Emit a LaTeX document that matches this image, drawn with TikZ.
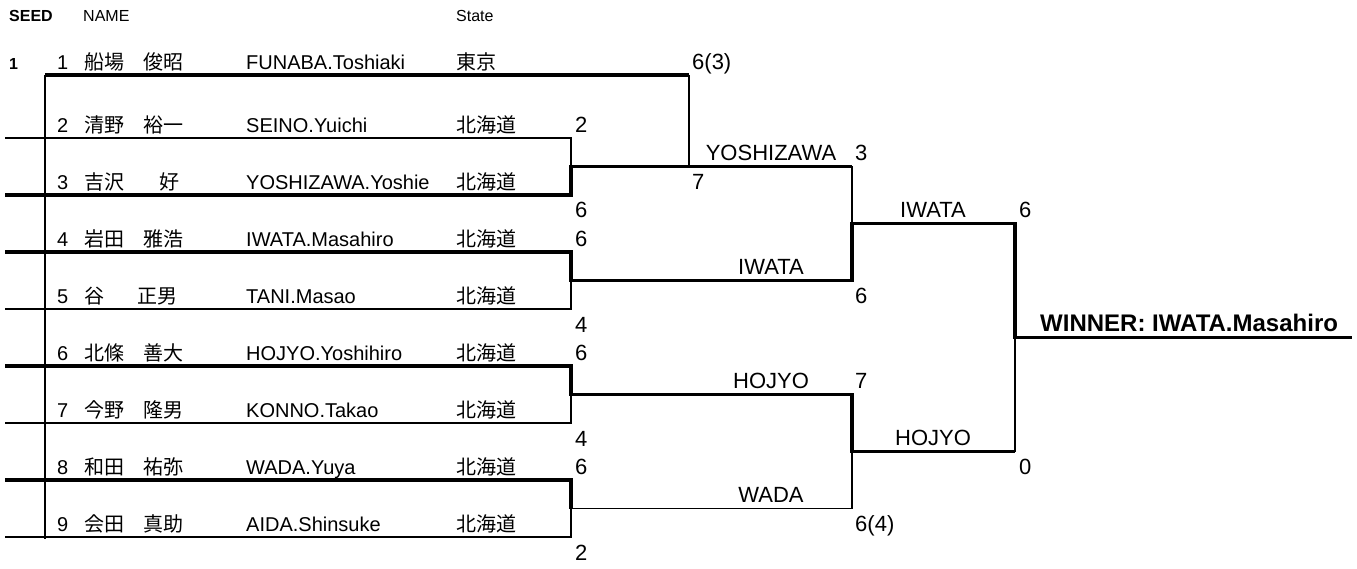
\documentclass[tikz,border=0pt]{standalone}
\usepackage{fontspec}
\setmainfont{Liberation Sans}
\newfontfamily\jp{Noto Sans CJK JP}
\usetikzlibrary{positioning, calc}

% family name in a box, given name after it
\newcommand{\jpname}[3]{\makebox[#1pt][l]{#2}#3}

\begin{document}
\begin{tikzpicture}[x=1pt, y=-1pt,
		every node/.style={inner sep=0pt},
		headText/.style={anchor=base west, font=\fontsize{16}{18}\selectfont},
		seedText/.style={anchor=base west, font=\fontsize{16}{18}\selectfont\bfseries},
		nameText/.style={anchor=base west, font=\fontsize{20}{24}\selectfont},
		jpText/.style={anchor=base west, font=\fontsize{20}{24}\selectfont\jp},
		scoreText/.style={anchor=base west, font=\fontsize{22}{26}\selectfont},
		labelText/.style={anchor=base, font=\fontsize{22}{26}\selectfont},
		winnerText/.style={anchor=base west, font=\fontsize{24}{28}\selectfont\bfseries},
		thinLine/.style={line width=1.2pt},
		thickLine/.style={line width=3.2pt},
		frameLine/.style={line width=2pt}
	]
	\useasboundingbox (0,0) rectangle (1357,569);

	% header
	\node[seedText] (hSeed) at (9,22) {SEED};
	\node[headText] (hName) at (83,22) {NAME};
	\node[headText] (hState) at (456,22) {State};

	% row lines
	\coordinate (a1) at (45,75);  \coordinate (b1) at (689,75);
	\coordinate (a2) at (5,138);  \coordinate (b2) at (571,138);
	\coordinate (a3) at (5,195);  \coordinate (b3) at (571,195);
	\coordinate (a4) at (5,252);  \coordinate (b4) at (571,252);
	\coordinate (a5) at (5,309);  \coordinate (b5) at (571,309);
	\coordinate (a6) at (5,366);  \coordinate (b6) at (571,366);
	\coordinate (a7) at (5,423);  \coordinate (b7) at (571,423);
	\coordinate (a8) at (5,480);  \coordinate (b8) at (571,480);
	\coordinate (a9) at (5,537);  \coordinate (b9) at (571,537);
	\coordinate (frameEnd) at (45,539);

	% junctions
	\coordinate (m23) at (571,166.5);
	\coordinate (m45) at (571,280.5);
	\coordinate (m67) at (571,394.5);
	\coordinate (m89) at (571,508.5);
	\coordinate (f1) at (689,166.5);
	\coordinate (q1) at (852,166.5);
	\coordinate (q2) at (852,280.5);
	\coordinate (q3) at (852,394.5);
	\coordinate (q4) at (852,508.5);
	\coordinate (sf1) at (852,223.5);
	\coordinate (sf2) at (852,451.5);
	\coordinate (t1) at (1015,223.5);
	\coordinate (t2) at (1015,451.5);
	\coordinate (w) at (1015,337.5);
	\coordinate (wEnd) at (1352,337.5);

	% players
	\node[seedText] (seed1) at (9,69.5) {1};
	\node[nameText] (n1) at (57,69.5) {1};
	\node[jpText] (jp1) at (84,69.5) {\jpname{59}{船場}{俊昭}};
	\node[nameText] (en1) at (246,69.5) {FUNABA.Toshiaki};
	\node[jpText] (st1) at (456,69.5) {東京};

	\node[nameText] (n2) at (57,132.5) {2};
	\node[jpText] (jp2) at (84,132.5) {\jpname{59}{清野}{裕一}};
	\node[nameText] (en2) at (246,132.5) {SEINO.Yuichi};
	\node[jpText] (st2) at (456,132.5) {北海道};

	\node[nameText] (n3) at (57,189.5) {3};
	\node[jpText] (jp3) at (84,189.5) {\jpname{75}{吉沢}{好}};
	\node[nameText] (en3) at (246,189.5) {YOSHIZAWA.Yoshie};
	\node[jpText] (st3) at (456,189.5) {北海道};

	\node[nameText] (n4) at (57,246.5) {4};
	\node[jpText] (jp4) at (84,246.5) {\jpname{59}{岩田}{雅浩}};
	\node[nameText] (en4) at (246,246.5) {IWATA.Masahiro};
	\node[jpText] (st4) at (456,246.5) {北海道};

	\node[nameText] (n5) at (57,303.5) {5};
	\node[jpText] (jp5) at (84,303.5) {\jpname{53}{谷}{正男}};
	\node[nameText] (en5) at (246,303.5) {TANI.Masao};
	\node[jpText] (st5) at (456,303.5) {北海道};

	\node[nameText] (n6) at (57,360.5) {6};
	\node[jpText] (jp6) at (84,360.5) {\jpname{59}{北條}{善大}};
	\node[nameText] (en6) at (246,360.5) {HOJYO.Yoshihiro};
	\node[jpText] (st6) at (456,360.5) {北海道};

	\node[nameText] (n7) at (57,417.5) {7};
	\node[jpText] (jp7) at (84,417.5) {\jpname{59}{今野}{隆男}};
	\node[nameText] (en7) at (246,417.5) {KONNO.Takao};
	\node[jpText] (st7) at (456,417.5) {北海道};

	\node[nameText] (n8) at (57,474.5) {8};
	\node[jpText] (jp8) at (84,474.5) {\jpname{59}{和田}{祐弥}};
	\node[nameText] (en8) at (246,474.5) {WADA.Yuya};
	\node[jpText] (st8) at (456,474.5) {北海道};

	\node[nameText] (n9) at (57,531.5) {9};
	\node[jpText] (jp9) at (84,531.5) {\jpname{59}{会田}{真助}};
	\node[nameText] (en9) at (246,531.5) {AIDA.Shinsuke};
	\node[jpText] (st9) at (456,531.5) {北海道};

	% lines of losers
	\draw[thinLine] (a2) -- (b2) -- (m23);
	\draw[thinLine] (a5) -- (b5) -- (m45);
	\draw[thinLine] (a7) -- (b7) -- (m67);
	\draw[thinLine] (a9) -- (b9) -- (m89);
	\draw[thinLine] (b1) -- (f1);
	\draw[thinLine] (q1) -- (sf1);
	\draw[thinLine] (m89) -- (q4) -- (sf2);
	\draw[thinLine] (t2) -- (w);
	\draw[frameLine] (a1) -- (frameEnd);

	% lines of winners
	\draw[thickLine] (a1) -- (b1);
	\draw[thickLine] (a3) -- (b3) -- (m23) -- (q1);
	\draw[thickLine] (a4) -- (b4) -- (m45) -- (q2) -- (sf1) -- (t1) -- (w) -- (wEnd);
	\draw[thickLine] (a6) -- (b6) -- (m67) -- (q3) -- (sf2) -- (t2);
	\draw[thickLine] (a8) -- (b8) -- (m89);

	% first round scores
	\node[scoreText] (sc2) at (575,132.5) {2};
	\node[scoreText] (sc3) at (575,218) {6};
	\node[scoreText] (sc4) at (575,246.5) {6};
	\node[scoreText] (sc5) at (575,332) {4};
	\node[scoreText] (sc6) at (575,360.5) {6};
	\node[scoreText] (sc7) at (575,446) {4};
	\node[scoreText] (sc8) at (575,474.5) {6};
	\node[scoreText] (sc9) at (575,560) {2};

	% second round
	\node[scoreText] (sc1b) at (692,69.5) {6(3)};
	\node[scoreText] (sc3b) at (692,189.5) {7};
	\node[labelText] (lbYoshizawa) at (771,160.5) {YOSHIZAWA};
	\node[scoreText] (sc3c) at (855,160.5) {3};
	\node[labelText] (lbIwata) at (771,274.5) {IWATA};
	\node[scoreText] (sc4c) at (855,303.5) {6};
	\node[labelText] (lbHojyo) at (771,388.5) {HOJYO};
	\node[scoreText] (sc6c) at (855,388.5) {7};
	\node[labelText] (lbWada) at (771,502.5) {WADA};
	\node[scoreText] (sc8c) at (855,531.5) {6(4)};

	% semifinals and final
	\node[labelText] (sfIwata) at (933,217.5) {IWATA};
	\node[scoreText] (sc4d) at (1019,217.5) {6};
	\node[labelText] (sfHojyo) at (933,445.5) {HOJYO};
	\node[scoreText] (sc6d) at (1019,474.5) {0};
	\node[winnerText] (winner) at (1040,331) {WINNER: IWATA.Masahiro};
\end{tikzpicture}
\end{document}
